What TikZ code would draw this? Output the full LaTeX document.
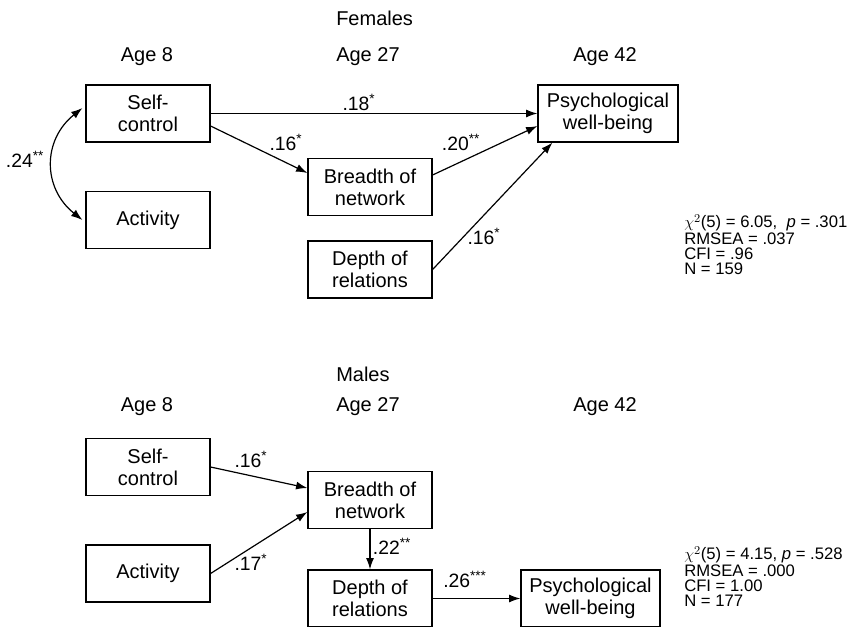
\documentclass[tikz,border=0pt]{standalone}
\usepackage{fontspec}
\setmainfont{Liberation Sans}
\usetikzlibrary{arrows.meta,calc}
\newcommand{\sig}[1]{\textsuperscript{#1}}

\begin{document}
\begin{tikzpicture}[x=0.75pt,y=-0.75pt,
    box/.style={draw,line width=0.9pt,minimum width=93pt,minimum height=42.75pt,
                inner sep=0pt,align=center,font=\fontsize{15pt}{16.5pt}\selectfont},
    widebox/.style={box,minimum width=105pt},
    effect/.style={line width=0.9pt,-{Latex[length=8.5pt,width=6pt]}},
    coef/.style={inner sep=0pt,font=\fontsize{14.5pt}{16pt}\selectfont},
    head/.style={inner sep=0pt,font=\fontsize{15pt}{16pt}\selectfont},
    stats/.style={inner sep=0pt,align=left,anchor=north west,
                  font=\fontsize{12.5pt}{11.2pt}\selectfont}]
    \useasboundingbox (0,0) rectangle (847,626);
    % Draw headings
    \node[head,anchor=west] (femF) at (336,18) {Females};
    \node[head] (age8F) at (147,57) {Age 8};
    \node[head,anchor=west] (age27F) at (336,57) {Age 27};
    \node[head] (age42F) at (605,57) {Age 42};
    \node[head,anchor=west] (maleM) at (336,374) {Males};
    \node[head] (age8M) at (147,407) {Age 8};
    \node[head,anchor=west] (age27M) at (336,407) {Age 27};
    \node[head] (age42M) at (605,407) {Age 42};
    % Draw female boxes
    \node[box] (selfF) at (148,113.5) {Self-\\control};
    \node[box] (actF) at (148,220) {Activity};
    \node[box] (breadthF) at (370,187) {Breadth of\\network};
    \node[box] (depthF) at (370,269.5) {Depth of\\relations};
    \node[widebox] (wellF) at (608,113.5) {Psychological\\well-being};
    % Draw male boxes
    \node[box] (selfM) at (148,467) {Self-\\control};
    \node[box] (actM) at (148,573.5) {Activity};
    \node[box] (breadthM) at (370,500) {Breadth of\\network};
    \node[box] (depthM) at (370,598.5) {Depth of\\relations};
    \node[widebox,minimum width=104.25pt] (wellM) at (590.5,598.5) {Psychological\\well-being};
    % Draw female paths
    \draw[effect] (selfF.east) -- (wellF.west);
    \draw[effect] ($(selfF.east)+(0,12.5)$) -- ($(breadthF.west)+(0,-14)$);
    \draw[effect] ($(breadthF.east)+(0,-12)$) -- ($(wellF.west)+(0,12.5)$);
    \draw[effect] (depthF.east) -- ($(wellF.south west)+(15,0)$);
    \draw[line width=0.9pt,{Latex[length=8.5pt,width=6pt]}-{Latex[length=8.5pt,width=6pt]}]
          ($(selfF.west)+(-3,-5.5)$) .. controls +(-40,32) and +(-40,-32) .. ($(actF.west)+(-3,0)$);
    % Draw male paths
    \draw[effect] (selfM.east) -- ($(breadthM.west)+(0,-12)$);
    \draw[effect] (actM.east) -- ($(breadthM.west)+(0,12)$);
    \draw[effect] (breadthM.south) -- (depthM.north);
    \draw[effect] (depthM.east) -- (wellM.west);
    % Draw coefficients
    \node[coef] (c18F) at (359,102) {.18\sig{*}};
    \node[coef] (c16F) at (286,142) {.16\sig{*}};
    \node[coef] (c20F) at (461,142) {.20\sig{**}};
    \node[coef] (c16dF) at (484,236) {.16\sig{*}};
    \node[coef] (c24F) at (25,159) {.24\sig{**}};
    \node[coef] (c16M) at (251,459) {.16\sig{*}};
    \node[coef] (c17M) at (251,562) {.17\sig{*}};
    \node[coef] (c22M) at (392,546) {.22\sig{**}};
    \node[coef] (c26M) at (465,579) {.26\sig{***}};
    % Draw fit statistics
    \node[stats] (fitF) at (684,214) {$\chi^2$(5) = 6.05,\ \ \textit{p} = .301\\RMSEA = .037\\CFI = .96\\N = 159};
    \node[stats] (fitM) at (684,546) {$\chi^2$(5) = 4.15, \textit{p} = .528\\RMSEA = .000\\CFI = 1.00\\N = 177};
\end{tikzpicture}
\end{document}
